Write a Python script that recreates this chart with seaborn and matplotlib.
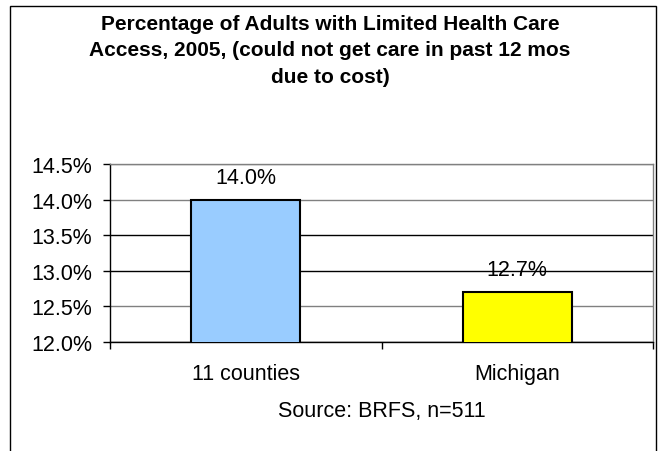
import matplotlib
matplotlib.use("Agg")
import matplotlib.pyplot as plt
from matplotlib.patches import Rectangle
from matplotlib.ticker import FuncFormatter, FixedLocator
import seaborn as sns

# data
regions = ["11 counties", "Michigan"]
pct_cost_barrier = [14.0, 12.7]
bar_colors = ["#99CCFF", "#FFFF00"]
y_ticks = [12.0, 12.5, 13.0, 13.5, 14.0, 14.5]

sns.set_style("white")
plt.rcParams['font.family'] = ['Liberation Sans', 'DejaVu Sans']
plt.rcParams['text.color'] = 'black'
plt.rcParams['axes.labelcolor'] = 'black'
plt.rcParams['xtick.color'] = 'black'
plt.rcParams['ytick.color'] = 'black'

fig = plt.figure(figsize=(6.6, 4.52), dpi=100)
ax = fig.add_axes([110 / 660, 1 - 343 / 452, 543 / 660, 178 / 452])

sns.barplot(x=regions, y=pct_cost_barrier, hue=regions, palette=bar_colors,
            width=0.4, edgecolor="black", linewidth=1.5, legend=False,
            saturation=1, ax=ax, zorder=3)

ax.set_ylim(12.0, 14.5)
ax.set_xlim(-0.5, 1.5)
ax.set_yticks(y_ticks)
ax.yaxis.set_major_formatter(FuncFormatter(lambda v, p: "%.1f%%" % v))
ax.tick_params(axis="y", direction="out", length=5, width=1, color="black",
               labelcolor="black", pad=8, labelsize=15.5, left=True)

# category labels centred, tick marks on the boundaries
ax.tick_params(axis="x", which="major", length=0, pad=15, labelsize=15.5,
               labelcolor="black")
ax.xaxis.set_minor_locator(FixedLocator([-0.5, 0.5, 1.5]))
ax.tick_params(axis="x", which="minor", direction="out", length=5, width=1,
               color="black", bottom=True)
ax.set_xlabel("Source: BRFS, n=511", fontsize=15.5, labelpad=12,
              color="black")
ax.set_ylabel("")

ax.yaxis.grid(True, linewidth=1, zorder=0)
grid_cols = ["black", "#808080", "black", "black", "#808080", "#808080"]
for gl, c in zip(ax.get_ygridlines(), grid_cols):
    gl.set_color(c)
ax.set_axisbelow(True)

for side in ["top", "right"]:
    ax.spines[side].set_color("#808080")
    ax.spines[side].set_linewidth(1)
for side in ["left", "bottom"]:
    ax.spines[side].set_color("black")
    ax.spines[side].set_linewidth(1)

for i, v in enumerate(pct_cost_barrier):
    ax.annotate("%.1f%%" % v, xy=(i, v), xytext=(0, 16),
                textcoords="offset points", ha="center", va="center",
                fontsize=15.5, color="black")

fig.text(0.5, 1 - 51 / 452,
         "Percentage of Adults with Limited Health Care\n"
         "Access, 2005, (could not get care in past 12 mos\n"
         "due to cost)",
         ha="center", va="center", fontsize=15, fontweight="bold",
         linespacing=1.5, color="black")

# outer chart frame (bottom edge runs off the image)
fig.add_artist(Rectangle((9.5 / 660, -0.1), 646 / 660, 1.1 - 6.5 / 452,
                         transform=fig.transFigure, fill=False,
                         edgecolor="black", linewidth=1))

fig.savefig("out.png", dpi=100)
